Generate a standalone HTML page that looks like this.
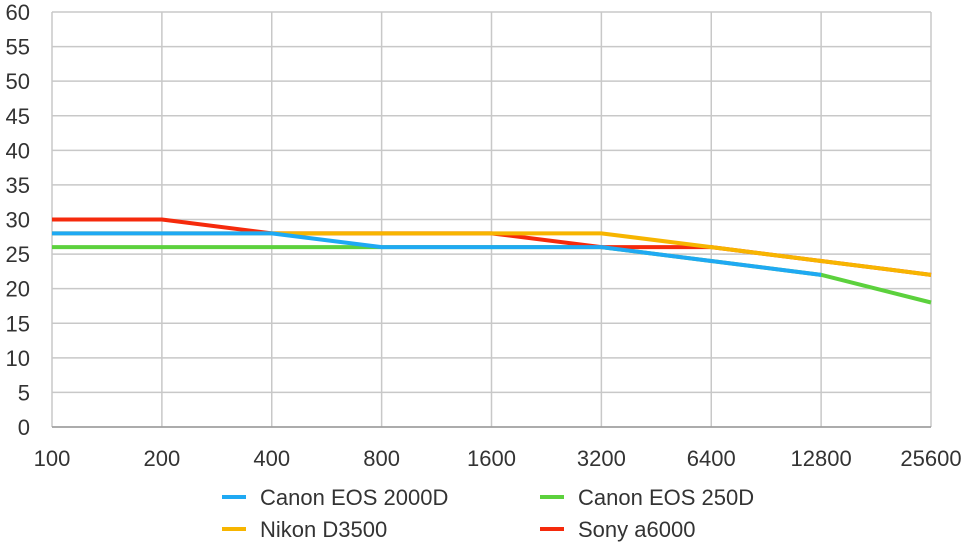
<!DOCTYPE html>
<html><head><meta charset="utf-8"><style>
body{margin:0;background:#fff;}
svg{display:block;font-family:"Liberation Sans",sans-serif;}
</style></head><body>
<svg id="chart" width="970" height="546"></svg>
<script>
const categories=["100","200","400","800","1600","3200","6400","12800","25600"];
const yTicks=[0,5,10,15,20,25,30,35,40,45,50,55,60];
const canon2000d=[28,28,28,26,26,26,24,22,null];
const canon250d=[26,26,26,26,26,26,24,22,18];
const nikonD3500=[28,28,28,28,28,28,26,24,22];
const sonyA6000=[30,30,28,28,28,26,26,24,22];
const NS="http://www.w3.org/2000/svg";
const svg=document.getElementById('chart');
const L=52,R=931,T=12,B=427;
const x=i=>L+i*(R-L)/(categories.length-1);
const y=v=>B-v/60*(B-T);
function mk(t,a,p){const e=document.createElementNS(NS,t);for(const k in a)e.setAttribute(k,a[k]);(p||svg).appendChild(e);return e;}
const grid=mk('g',{});


yTicks.forEach(v=>{
 mk('line',{x1:L,x2:R,y1:y(v),y2:y(v),stroke:'#c8c8c8','stroke-width':1.5},grid);
 const t=mk('text',{x:30,y:y(v)+8,'text-anchor':'end','font-size':22,fill:'#333'});
 t.textContent=v;
 
 
});
categories.forEach((c,i)=>{
 mk('line',{x1:x(i),x2:x(i),y1:T,y2:B,stroke:'#c8c8c8','stroke-width':1.5},grid);
 const t=mk('text',{x:x(i),y:466,'text-anchor':'middle','font-size':22,fill:'#333'});
 t.textContent=c;
 
 
});
mk('line',{x1:L,x2:R,y1:B,y2:B,stroke:'#999','stroke-width':1.5},grid);
const series=[
 {name:'canon-eos-250d',data:canon250d,color:'#5cd13d'},
 {name:'sony-a6000',data:sonyA6000,color:'#f52a0c'},
 {name:'nikon-d3500',data:nikonD3500,color:'#f7b500'},
 {name:'canon-eos-2000d',data:canon2000d,color:'#1fa9f3'}];
series.forEach(s=>{
 let d='';let pen=false;
 s.data.forEach((v,i)=>{if(v==null){pen=false;return;}d+=(pen?'L':'M')+x(i)+','+y(v);pen=true;});
 const p=mk('path',{d:d,fill:'none',stroke:s.color,'stroke-width':4,'stroke-linejoin':'round'});
 
 
});
const legend=[['Canon EOS 2000D','#1fa9f3',222,497],['Canon EOS 250D','#5cd13d',540,497],['Nikon D3500','#f7b500',222,529],['Sony a6000','#f52a0c',540,529]];
legend.forEach(l=>{
 const g=mk('g',{});
 
 
 mk('line',{x1:l[2],x2:l[2]+24,y1:l[3],y2:l[3],stroke:l[1],'stroke-width':4},g);
 const t=mk('text',{x:l[2]+38,y:l[3]+8,'font-size':22,fill:'#333'},g);
 t.textContent=l[0];
});
</script>
</body></html>
